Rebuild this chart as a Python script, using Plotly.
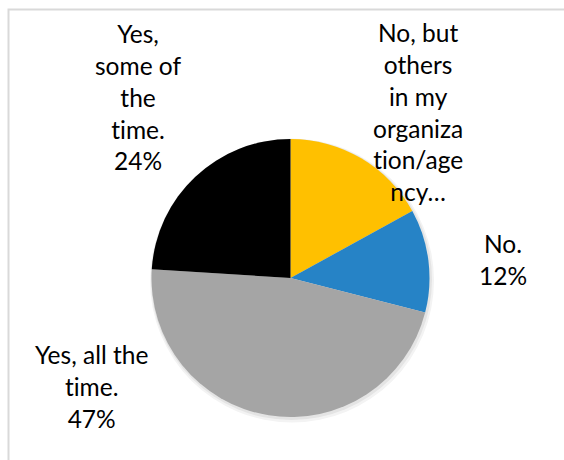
import plotly.graph_objects as go

# Survey responses, clockwise from 12 o'clock
categories = [
    "No, but others in my organization/agency...",
    "No.",
    "Yes, all the time.",
    "Yes, some of the time.",
]
values = [17, 12, 47, 24]
colors = ["#FFC000", "#2683C6", "#A5A5A5", "#000000"]

# Label text as wrapped in the narrow label boxes
label_lines = [
    ["No, but", "others", "in my", "organiza", "tion/age", "ncy…"],
    ["No."],
    ["Yes, all the", "time."],
    ["Yes,", "some of", "the", "time."],
]
show_pct = [False, True, True, True]

W, H = 564, 460
cx, cy, r = 290.5, 278, 139

# Label block centres in pixels
label_pos = [(418, 112.5), (503, 259), (91, 386.5), (138, 97)]


def no_ti_ligature(s):
    # keep "t" and "i" as separate glyphs
    return s.replace("ti", "t\u200ci")


fig = go.Figure(
    go.Pie(
        labels=categories,
        values=values,
        sort=False,
        direction="clockwise",
        rotation=0,
        marker=dict(colors=colors, line=dict(width=0)),
        textinfo="none",
        hoverinfo="label+percent",
        showlegend=False,
        domain=dict(
            x=[(cx - r) / W, (cx + r) / W],
            y=[1 - (cy + r) / H, 1 - (cy - r) / H],
        ),
    )
)

total = sum(values)
annotations = []
for lines, pct, v, (px, py) in zip(label_lines, show_pct, values, label_pos):
    text_lines = [no_ti_ligature(s) for s in lines]
    if pct:
        text_lines.append(f"{round(100 * v / total)}%")
    annotations.append(
        dict(
            x=px / W,
            y=1 - py / H,
            xref="paper",
            yref="paper",
            xanchor="center",
            yanchor="middle",
            text="<br>".join(text_lines),
            showarrow=False,
            align="center",
            font=dict(family="Lato", size=24.5, color="#000000"),
        )
    )

# soft drop shadow under the pie
shadow = []
for grow, dx, dy, col in [(3.0, 1.5, 2.5, "#F3F3F3"), (1.5, 1.0, 1.5, "#E4E4E4")]:
    shadow.append(
        dict(
            type="circle",
            xref="paper",
            yref="paper",
            layer="below",
            x0=(cx + dx - r - grow) / W,
            x1=(cx + dx + r + grow) / W,
            y0=1 - (cy + dy + r + grow) / H,
            y1=1 - (cy + dy - r - grow) / H,
            line=dict(width=0),
            fillcolor=col,
        )
    )

fig.update_layout(
    width=W,
    height=H,
    margin=dict(l=0, r=0, t=0, b=0),
    paper_bgcolor="white",
    plot_bgcolor="white",
    annotations=annotations,
    shapes=shadow
    + [
        dict(
            type="rect",
            xref="paper",
            yref="paper",
            x0=8.5 / W,
            x1=1.02,
            y0=-0.02,
            y1=1 - 9.5 / H,
            line=dict(color="#D9D9D9", width=2),
            fillcolor="rgba(0,0,0,0)",
        )
    ],
)

fig.write_html("out.html")
